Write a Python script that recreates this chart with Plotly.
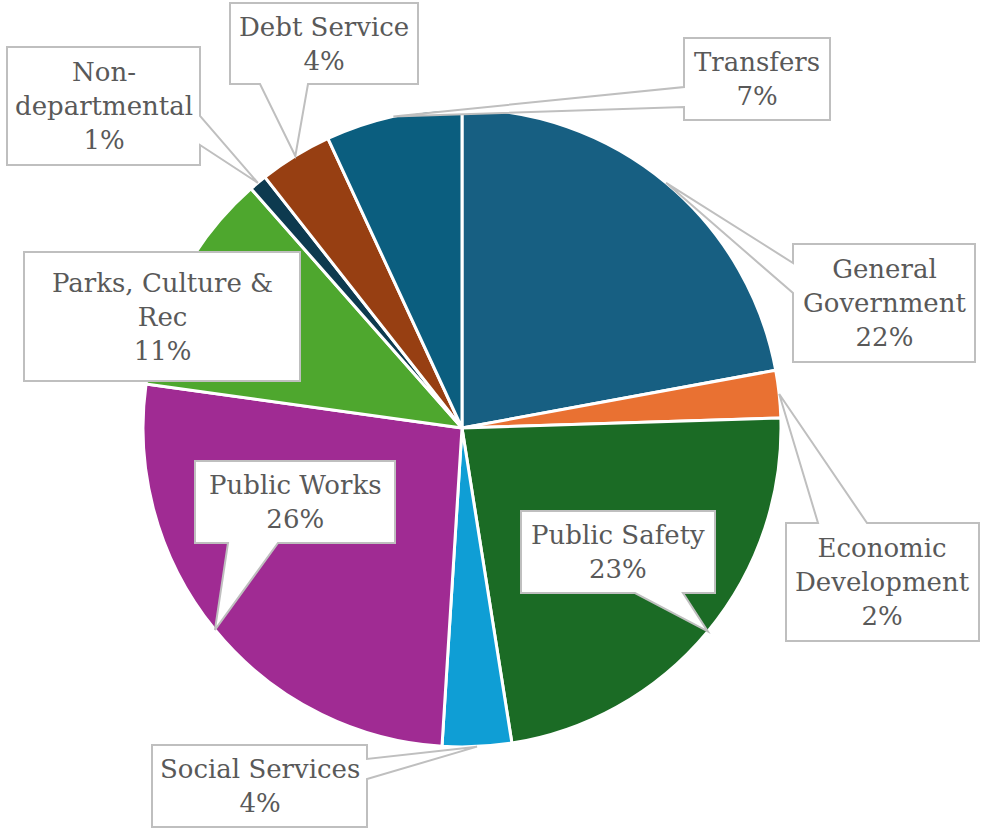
import math
import plotly.graph_objects as go

# Budget share by function (percent of total), clockwise from 12 o'clock
categories = [
    "General Government", "Economic Development", "Public Safety",
    "Social Services", "Public Works", "Parks, Culture & Rec",
    "Non-departmental", "Debt Service", "Transfers",
]
shares = [22.1, 2.4, 23.0, 3.5, 26.2, 11.3, 0.9, 3.7, 6.9]
label_lines = [
    ["General", "Government"], ["Economic", "Development"], ["Public Safety"],
    ["Social Services"], ["Public Works"], ["Parks, Culture &amp;", "Rec"],
    ["Non-", "departmental"], ["Debt Service"], ["Transfers"],
]
colors = ["#175F82", "#E97132", "#1B6B25", "#0F9ED5", "#A02B93",
          "#4EA72E", "#0D3A4F", "#973F12", "#0B5E7F"]

W, H = 986, 829
CX, CY, R = 462, 428, 319  # pie centre and radius in pixels

# Callout boxes: (x0, y0, x1, y1), side the pointer leaves from, pointer base span
callouts = {
    "General Government": ((793, 244, 975, 362), "left", (263, 293)),
    "Economic Development": ((786, 523, 979, 641), "top", (818, 867)),
    "Public Safety": ((521, 511, 715, 593), "bottom", (635, 683)),
    "Social Services": ((152, 745, 367, 827), "right", (759, 779)),
    "Public Works": ((195, 461, 395, 543), "bottom", (228, 278)),
    "Parks, Culture & Rec": ((24, 252, 300, 381), None, None),
    "Non-departmental": ((7, 47, 200, 165), "right", (116, 145)),
    "Debt Service": ((230, 3, 418, 84), "bottom", (260, 308)),
    "Transfers": ((684, 38, 830, 120), "left", (87, 107)),
}


def px(x, y):
    return x / W, 1 - y / H


total = sum(shares)
fig = go.Figure(go.Pie(
    labels=categories, values=shares, sort=False, direction="clockwise",
    rotation=0, marker=dict(colors=colors, line=dict(color="white", width=3)),
    textinfo="none", hoverinfo="label+percent", showlegend=False,
    domain=dict(x=[(CX - R) / W, (CX + R) / W],
                y=[(H - CY - R) / H, (H - CY + R) / H]),
))

shapes, annotations = [], []
cum = 0.0
for name, val, lines in zip(categories, shares, label_lines):
    mid = (cum + val / 2) / total * 2 * math.pi
    cum += val
    tip = (CX + R * math.sin(mid), CY - R * math.cos(mid))
    (x0, y0, x1, y1), side, base = callouts[name]
    if side == "bottom":
        pts = [(x0, y0), (x1, y0), (x1, y1), (base[1], y1), tip, (base[0], y1), (x0, y1)]
    elif side == "top":
        pts = [(x0, y0), (base[0], y0), tip, (base[1], y0), (x1, y0), (x1, y1), (x0, y1)]
    elif side == "left":
        pts = [(x0, y0), (x1, y0), (x1, y1), (x0, y1), (x0, base[1]), tip, (x0, base[0])]
    elif side == "right":
        pts = [(x0, y0), (x1, y0), (x1, base[0]), tip, (x1, base[1]), (x1, y1), (x0, y1)]
    else:
        pts = [(x0, y0), (x1, y0), (x1, y1), (x0, y1)]
    path = "M " + " L ".join("%.5f,%.5f" % px(*p) for p in pts) + " Z"
    shapes.append(dict(type="path", xref="paper", yref="paper", path=path,
                       fillcolor="white", line=dict(color="#BFBFBF", width=2),
                       layer="above"))
    pct = int(val * 100 / total + 0.5)
    text = "<br>".join(lines + ["%d%%" % pct])
    cx, cy = px((x0 + x1) / 2, (y0 + y1) / 2)
    annotations.append(dict(x=cx, y=cy, xref="paper", yref="paper", text=text,
                            showarrow=False, align="center",
                            xanchor="center", yanchor="middle",
                            font=dict(family="DejaVu Serif", size=26, color="#595959")))

fig.update_layout(
    width=W, height=H, margin=dict(l=0, r=0, t=0, b=0),
    paper_bgcolor="white", plot_bgcolor="white",
    shapes=shapes, annotations=annotations,
)
fig.write_html("out.html")
